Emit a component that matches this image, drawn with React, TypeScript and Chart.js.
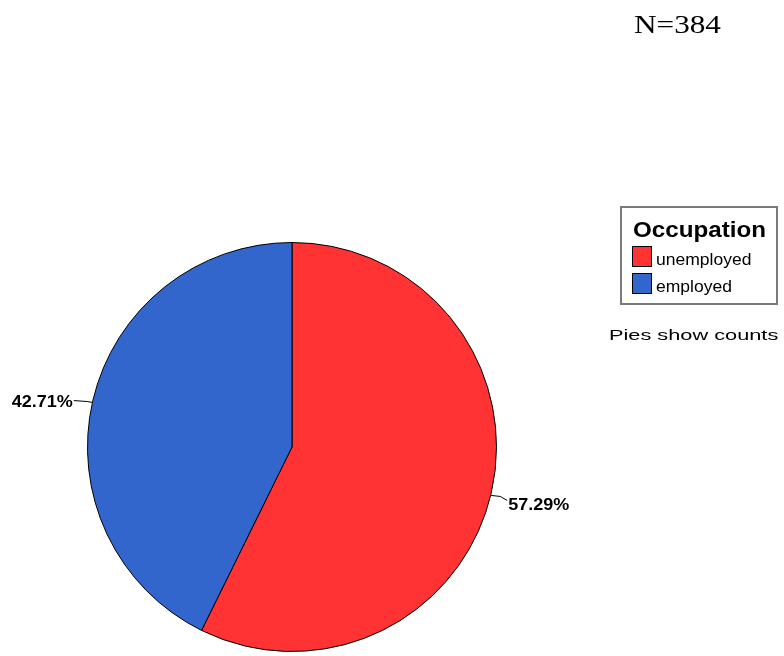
import React, { useEffect, useRef } from "react";
import { Chart, registerables } from "chart.js";

Chart.register(...registerables);

const categories = ["unemployed", "employed"];
const counts = [220, 164];
const sliceColors = ["#FF3333", "#3366CC"];
const legendTitle = "Occupation";
const totalLabel = "N=384";
const footNote = "Pies show counts";

const SANS = "'Liberation Sans', Arial, sans-serif";
const SERIF = "'Liberation Serif', 'Times New Roman', serif";

function drawScaledText(
  ctx: CanvasRenderingContext2D,
  text: string,
  x: number,
  y: number,
  font: string,
  sx: number,
  align: CanvasTextAlign = "left"
) {
  ctx.save();
  ctx.font = font;
  ctx.textAlign = align;
  ctx.textBaseline = "alphabetic";
  ctx.translate(x, y);
  ctx.scale(sx, 1);
  ctx.fillText(text, 0, 0);
  ctx.restore();
}

const decorPlugin = {
  id: "decor",
  afterDatasetsDraw(chart: any) {
    const ctx: CanvasRenderingContext2D = chart.ctx;
    const meta = chart.getDatasetMeta(0);
    const total = counts.reduce((a, b) => a + b, 0);
    ctx.save();
    ctx.fillStyle = "#000";
    ctx.strokeStyle = "#000";
    ctx.lineWidth = 1;
    meta.data.forEach((arc: any, i: number) => {
      const mid = (arc.startAngle + arc.endAngle) / 2;
      const r = arc.outerRadius;
      const px = arc.x + Math.cos(mid) * r;
      const py = arc.y + Math.sin(mid) * r;
      const pct = ((counts[i] / total) * 100).toFixed(2) + "%";
      const right = Math.cos(mid) >= 0;
      ctx.beginPath();
      if (right) {
        ctx.moveTo(px, py + 2);
        ctx.lineTo(px + 9, py + 3);
        ctx.lineTo(px + 16, py + 7);
        ctx.stroke();
        drawScaledText(ctx, pct, px + 17, py + 17, "bold 17px " + SANS, 1.06, "left");
      } else {
        ctx.moveTo(px, py + 2);
        ctx.lineTo(px - 5, py + 1);
        ctx.lineTo(px - 19, py);
        ctx.stroke();
        drawScaledText(ctx, pct, px - 20, py + 6, "bold 17px " + SANS, 1.06, "right");
      }
    });

    // N label
    drawScaledText(ctx, totalLabel, 634, 33, "26px " + SERIF, 1.2, "left");

    // Legend box
    ctx.strokeStyle = "#7a7a7a";
    ctx.lineWidth = 2;
    ctx.strokeRect(621, 207, 156, 97);
    ctx.fillStyle = "#000";
    drawScaledText(ctx, legendTitle, 633, 237, "bold 22px " + SANS, 1.1, "left");
    const rowBase = [265, 292];
    categories.forEach((c, i) => {
      ctx.fillStyle = sliceColors[i];
      ctx.fillRect(632.5, rowBase[i] - 18.5, 19, 20);
      ctx.strokeStyle = "#000";
      ctx.lineWidth = 1;
      ctx.strokeRect(632.5, rowBase[i] - 18.5, 19, 20);
      ctx.fillStyle = "#000";
      drawScaledText(ctx, c, 656, rowBase[i], "17px " + SANS, 1.03, "left");
    });

    drawScaledText(ctx, footNote, 609, 340, "15px " + SANS, 1.45, "left");
    ctx.restore();
  },
};

export default function App() {
  const ref = useRef<HTMLCanvasElement | null>(null);
  useEffect(() => {
    if (!ref.current) return;
    const chart = new Chart(ref.current, {
      type: "pie",
      data: {
        labels: categories,
        datasets: [
          {
            data: counts,
            backgroundColor: sliceColors,
            borderColor: "#000",
            borderWidth: 1,
          },
        ],
      },
      options: {
        responsive: false,
        animation: false,
        devicePixelRatio: 1,
        rotation: 0,
        layout: { padding: { left: 87, right: 287, top: 240, bottom: 2 } },
        plugins: {
          legend: { display: false },
          tooltip: { enabled: false },
          title: { display: false },
        },
      },
      plugins: [decorPlugin],
    });
    return () => chart.destroy();
  }, []);
  return (
    <div style={{ position: "absolute", left: 0, top: 0, width: 784, height: 656, background: "#fff" }}>
      <canvas ref={ref} width={784} height={656} style={{ display: "block" }} />
    </div>
  );
}
